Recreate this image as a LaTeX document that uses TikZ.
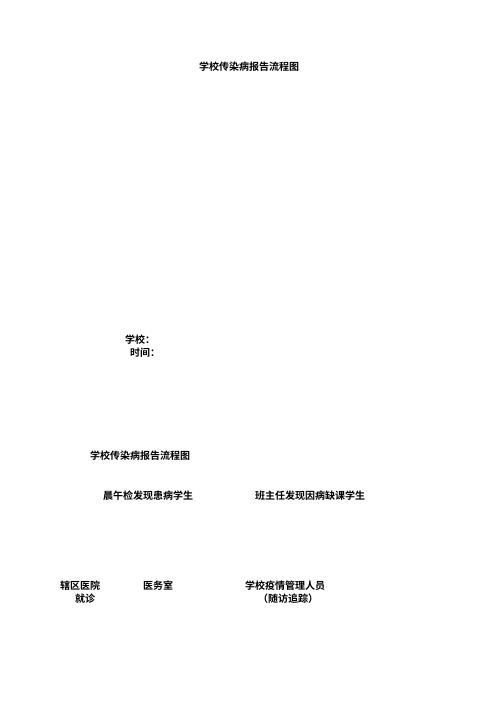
\documentclass[tikz,border=0pt]{standalone}
\usepackage{fontspec}
\newfontfamily\cjk{Noto Sans CJK SC Bold}
\begin{document}
\begin{tikzpicture}[x=1pt,y=1pt,
  lbl/.style={anchor=west,inner sep=0pt,font=\cjk\fontsize{10}{10}\selectfont}]
\useasboundingbox (0,0) rectangle (496,-702);
\node[lbl] (t1) at (199,-67) {学校传染病报告流程图};
\node[lbl] (sch) at (125,-340) {学校：};
\node[lbl] (tim) at (130,-353) {时间：};
\node[lbl] (t2) at (90,-456) {学校传染病报告流程图};
\node[lbl] (a) at (103,-496) {晨午检发现患病学生};
\node[lbl] (b) at (255,-496) {班主任发现因病缺课学生};
\node[lbl] (c) at (60,-586) {辖区医院};
\node[lbl] (c2) at (75,-599) {就诊};
\node[lbl] (d) at (143,-586) {医务室};
\node[lbl] (e) at (245,-586) {学校疫情管理人员};
\node[lbl] (e2) at (258,-599) {（随访追踪）};
\end{tikzpicture}
\end{document}
